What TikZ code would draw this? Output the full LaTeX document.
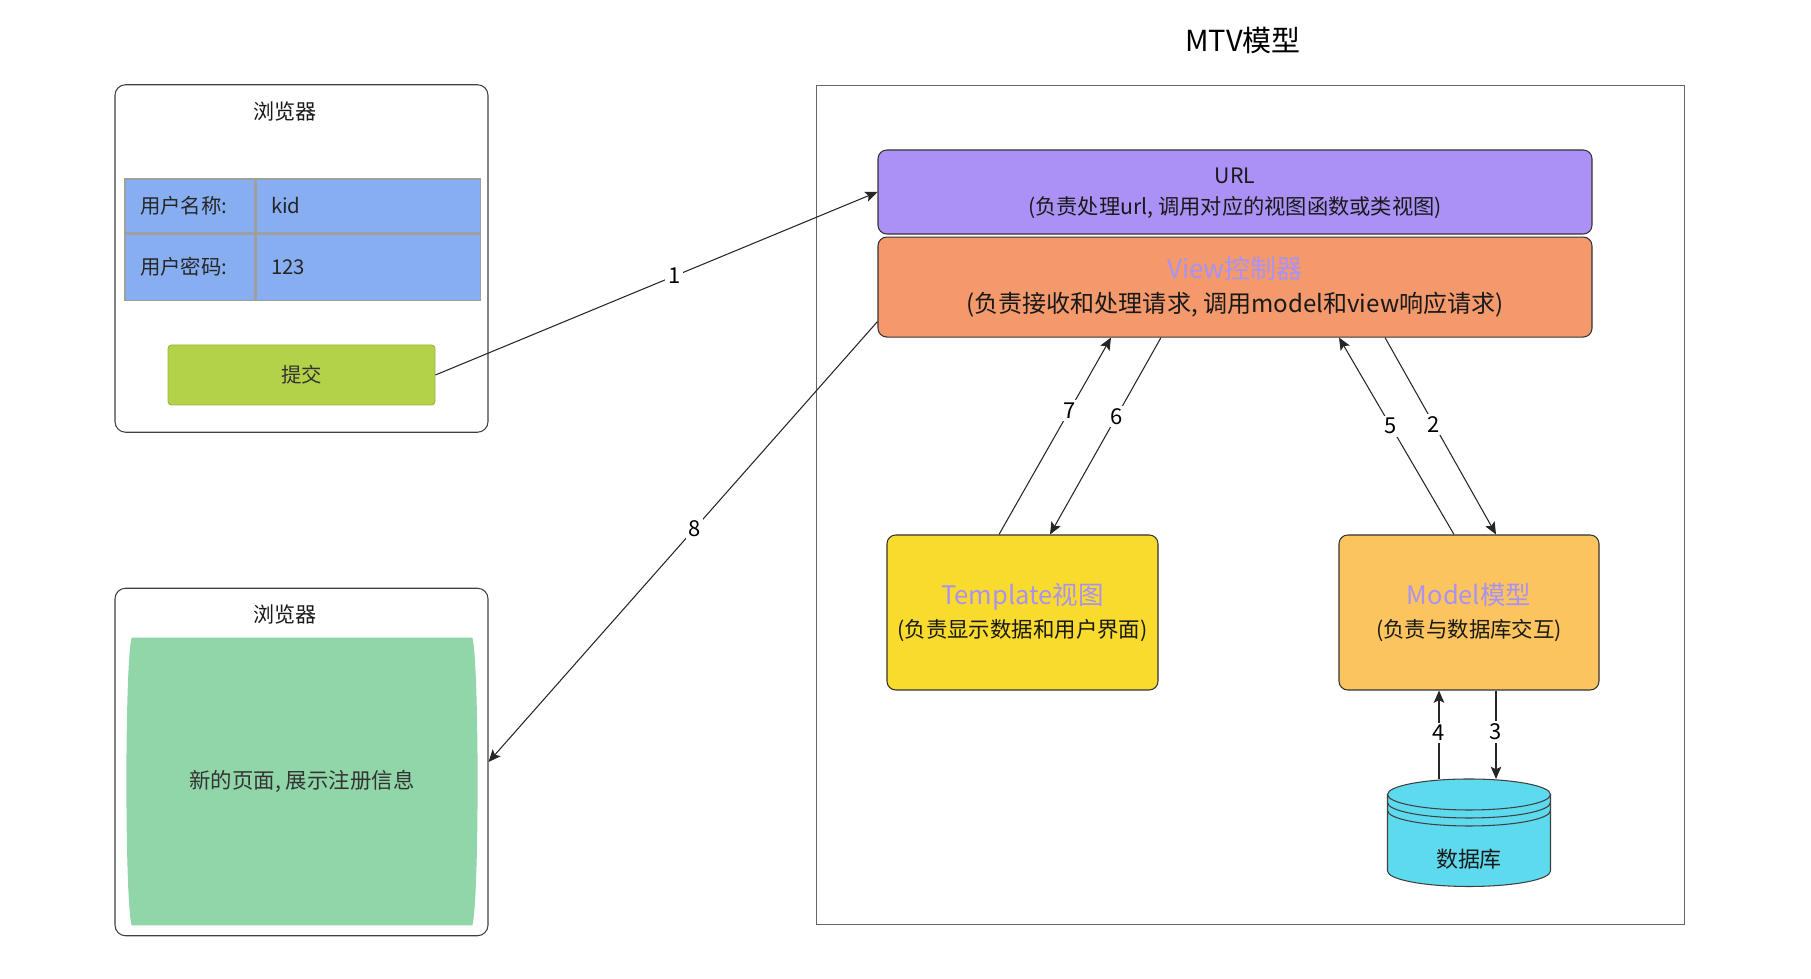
\documentclass[tikz,border=0pt]{standalone}
\usepackage{fontspec}
\setmainfont{Noto Sans CJK SC}
\usepackage{xcolor}
\usetikzlibrary{shapes,arrows.meta,positioning,calc,backgrounds}
\definecolor{formblue}{RGB}{136,174,242}
\definecolor{submitgreen}{RGB}{179,209,73}
\definecolor{urlfill}{RGB}{171,145,246}
\definecolor{viewfill}{RGB}{243,153,108}
\definecolor{tmplfill}{RGB}{249,219,45}
\definecolor{modelfill}{RGB}{252,196,94}
\definecolor{dbfill}{RGB}{94,218,238}
\definecolor{pagefill}{RGB}{144,214,168}
\definecolor{titlepurple}{RGB}{168,146,245}
\newcommand{\fsz}[2]{\fontsize{#1}{#2}\selectfont}

\begin{document}
\begin{tikzpicture}[
  browser/.style={rectangle, draw=black!75, rounded corners=6pt, line width=0.6pt,
                  minimum width=7.46cm, minimum height=6.95cm},
  caption/.style={font=\fsz{12}{14}, text=black!90},
  cell/.style={rectangle, draw=gray!75, fill=formblue, line width=0.6pt, align=left,
               inner xsep=0.3cm, inner ysep=0pt, font=\fsz{11.6}{14}, text=black!85},
  button/.style={rectangle, draw=submitgreen!85!black, fill=submitgreen, rounded corners=2pt,
                 line width=0.5pt, minimum width=5.34cm, minimum height=1.2cm,
                 font=\fsz{11.6}{14}, text=black!80},
  layer/.style={rectangle, draw=black!80, rounded corners=5pt, align=center,
                line width=0.6pt, minimum width=14.28cm, text=black!90},
  part/.style={rectangle, draw=black!80, rounded corners=5pt, align=center,
               line width=0.6pt, minimum height=3.1cm, font=\fsz{12.2}{18.8}, text=black!90},
  dbline/.style={draw=black!75, line width=0.6pt},
  link/.style={draw=black!85, line width=0.6pt, -{Stealth[length=7pt,width=6pt,inset=1.5pt]}},
  num/.style={font=\fsz{12.5}{14}, fill=white, inner sep=1.5pt, text=black},
]
  \useasboundingbox (0,0) rectangle (36.22,19.58);

  % Browser with the form
  \node[browser] (form) at (6.03,14.41) {};
  \node[caption] (formtitle) at (5.70,17.34) {浏览器};
  \node[cell, text width=2.0cm, minimum height=1.08cm] (name) at (3.80,15.46) {用户名称:};
  \node[cell, text width=3.88cm, minimum height=1.08cm, right=0cm of name] (nameval) {kid};
  \node[cell, text width=2.0cm, minimum height=1.32cm, below=0cm of name] (pwd) {用户密码:};
  \node[cell, text width=3.88cm, minimum height=1.32cm, right=0cm of pwd] (pwdval) {123};
  \node[button] (submit) at (6.03,12.08) {提交};

  % Browser with the answer page
  \node[browser] (result) at (6.03,4.34) {};
  \node[caption] (resulttitle) at (5.70,7.28) {浏览器};
  \node[minimum width=7.04cm, minimum height=5.74cm, font=\fsz{12.2}{14}, text=black!80]
       (page) at (6.04,3.95) {新的页面, 展示注册信息};
  \begin{scope}[on background layer]
    \fill[pagefill] ($(page.north west)+(0.12,0)$) -- ($(page.north east)+(-0.12,0)$)
      .. controls ($(page.north east)+(0.02,-0.5)$) and ($(page.south east)+(0.02,0.5)$)
      .. ($(page.south east)+(-0.12,0)$) -- ($(page.south west)+(0.12,0)$)
      .. controls ($(page.south west)+(-0.02,0.5)$) and ($(page.north west)+(-0.02,-0.5)$)
      .. cycle;
  \end{scope}

  % MTV frame
  \node[draw=black!60, line width=0.6pt, minimum width=17.35cm, minimum height=16.79cm]
       (mtv) at (25.01,9.48) {};
  \node[font=\fsz{16.5}{20}] (mtvtitle) at (24.86,18.78) {MTV模型};

  \node[layer, fill=urlfill, minimum height=1.68cm, font=\fsz{12.1}{17.6}] (url) at (24.70,15.74)
       {\rule{0pt}{10pt}URL\\(负责处理url, 调用对应的视图函数或类视图)};
  \node[layer, fill=viewfill, minimum height=2.0cm, below=0.04cm of url, font=\fsz{13.7}{19.3}] (view)
       {{\fsz{14.8}{19.3}\color{titlepurple}View控制器}\\(负责接收和处理请求, 调用model和view响应请求)};

  \node[part, fill=tmplfill, minimum width=5.42cm] (tmpl) at (20.45,7.33)
       {{\fsz{14.5}{18.8}\color{titlepurple}Template视图}\\(负责显示数据和用户界面)};
  \node[part, fill=modelfill, minimum width=5.2cm] (model) at (29.38,7.33)
       {{\fsz{14.5}{18.8}\color{titlepurple}Model模型}\\(负责与数据库交互)};

  % Database
  \fill[dbfill] (27.75,3.69) -- (27.75,2.16)
    arc[start angle=180, end angle=360, x radius=1.63cm, y radius=0.31cm] -- (31.01,3.69)
    arc[start angle=0, end angle=180, x radius=1.63cm, y radius=0.31cm] -- cycle;
  \draw[dbline] (27.75,3.69) -- (27.75,2.16)
    arc[start angle=180, end angle=360, x radius=1.63cm, y radius=0.31cm] -- (31.01,3.69);
  \draw[dbline] (29.38,3.69) ellipse [x radius=1.63cm, y radius=0.31cm];
  \draw[dbline] (27.75,3.53) arc[start angle=180, end angle=360, x radius=1.63cm, y radius=0.31cm];
  \draw[dbline] (27.75,3.37) arc[start angle=180, end angle=360, x radius=1.63cm, y radius=0.31cm];
  \node[font=\fsz{12.5}{15}, text=black!90] (dbname) at (29.38,2.40) {数据库};
  \coordinate (db) at (29.38,4.0);

  % Request flow
  \draw[link] (submit.east) -- node[num, pos=0.54] {1} (url.west);
  \draw[link] ([xshift=3.0cm]view.south) -- node[num, pos=0.44] {2} ([xshift=0.54cm]model.north);
  \draw[link] ([xshift=0.54cm]model.south) -- node[num, pos=0.47] {3} ([xshift=0.54cm]db);
  \draw[link] ([xshift=-0.6cm]db) -- node[num, pos=0.52] {4} ([xshift=-0.6cm]model.south);
  \draw[link] ([xshift=-0.3cm]model.north) -- node[num, pos=0.55] {5} ([xshift=2.08cm]view.south);
  \draw[link] ([xshift=-1.48cm]view.south) -- node[num, pos=0.4] {6} ([xshift=0.55cm]tmpl.north);
  \draw[link] ([xshift=-0.47cm]tmpl.north) -- node[num, pos=0.63] {7} ([xshift=-2.48cm]view.south);
  \draw[link] ($(view.south west)+(0,0.32)$) -- node[num, pos=0.47] {8} (result.east);

\end{tikzpicture}
\end{document}
